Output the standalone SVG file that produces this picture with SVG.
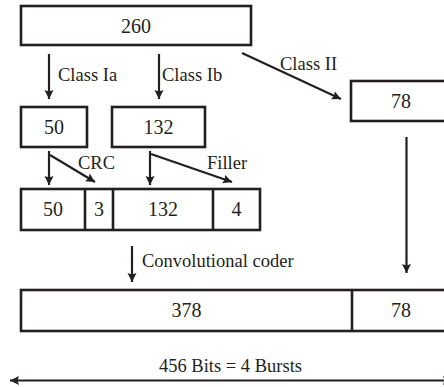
<svg xmlns="http://www.w3.org/2000/svg" width="444" height="387" viewBox="0 0 444 387">
<style>
.box{fill:#fff;stroke:#231f20;stroke-width:2.6}
.div{stroke:#231f20;stroke-width:2.6}
.num{font-family:"Liberation Serif","Times New Roman",serif;font-size:20px;fill:#231f20;text-anchor:middle}
.lbl{font-family:"Liberation Serif","Times New Roman",serif;font-size:18.5px;fill:#231f20}
.arr{stroke:#231f20;stroke-width:2.2;fill:none}
</style>
<defs>
<marker id="ah" markerUnits="userSpaceOnUse" markerWidth="10" markerHeight="10" refX="9" refY="4.5" orient="auto">
<path d="M0,0 L9,4.5 L0,9 L1.5,4.5 z" fill="#231f20"/>
</marker>
<marker id="ahs" markerUnits="userSpaceOnUse" markerWidth="10" markerHeight="10" refX="0" refY="4.5" orient="auto">
<path d="M9,0 L0,4.5 L9,9 L7.5,4.5 z" fill="#231f20"/>
</marker>
</defs>
<g id="node-260"><rect class="box" x="21" y="6" width="230" height="39"/><text class="num" x="136" y="33">260</text></g>
<g id="node-50"><rect class="box" x="21" y="107" width="66" height="40"/><text class="num" x="54" y="134">50</text></g>
<g id="node-132"><rect class="box" x="112" y="107" width="93" height="40"/><text class="num" x="158.5" y="134">132</text></g>
<g id="node-78a"><rect class="box" x="351" y="81" width="110" height="40"/><text class="num" x="401" y="108">78</text></g>
<g id="node-row"><rect class="box" x="21" y="189" width="239" height="41"/>
<line class="div" x1="85" y1="189" x2="85" y2="230"/><line class="div" x1="113" y1="189" x2="113" y2="230"/><line class="div" x1="213" y1="189" x2="213" y2="230"/>
<text class="num" x="53" y="216">50</text><text class="num" x="99" y="216">3</text><text class="num" x="163" y="216">132</text><text class="num" x="236.5" y="216">4</text></g>
<g id="node-out"><rect class="box" x="21" y="290" width="440" height="41"/><line class="div" x1="352" y1="290" x2="352" y2="331"/>
<text class="num" x="186.5" y="317">378</text><text class="num" x="401" y="317">78</text></g>
<g id="connectors">
<line class="arr" x1="49" y1="54" x2="49" y2="99" marker-end="url(#ah)"/>
<line class="arr" x1="159" y1="54" x2="159" y2="99" marker-end="url(#ah)"/>
<line class="arr" x1="242" y1="53" x2="341" y2="99" marker-end="url(#ah)"/>
<line class="arr" x1="49" y1="151" x2="49" y2="185" marker-end="url(#ah)"/>
<line class="arr" x1="50" y1="155" x2="95" y2="182" marker-end="url(#ah)"/>
<line class="arr" x1="150" y1="151" x2="150" y2="185" marker-end="url(#ah)"/>
<line class="arr" x1="151" y1="154" x2="232" y2="182" marker-end="url(#ah)"/>
<line class="arr" x1="132" y1="246" x2="132" y2="282" marker-end="url(#ah)"/>
<line class="arr" x1="406.5" y1="137" x2="406.5" y2="273" marker-end="url(#ah)"/>
<line class="arr" x1="10" y1="380.5" x2="452" y2="380.5" marker-start="url(#ahs)" marker-end="url(#ah)"/>
</g>
<g id="labels">
<text class="lbl" x="58" y="81">Class Ia</text>
<text class="lbl" x="162" y="81">Class Ib</text>
<text class="lbl" x="280" y="70">Class II</text>
<text class="lbl" x="78" y="169">CRC</text>
<text class="lbl" x="207" y="169">Filler</text>
<text class="lbl" x="142" y="267">Convolutional coder</text>
<text class="lbl" x="230.5" y="371.5" text-anchor="middle">456 Bits = 4 Bursts</text>
</g>
</svg>
